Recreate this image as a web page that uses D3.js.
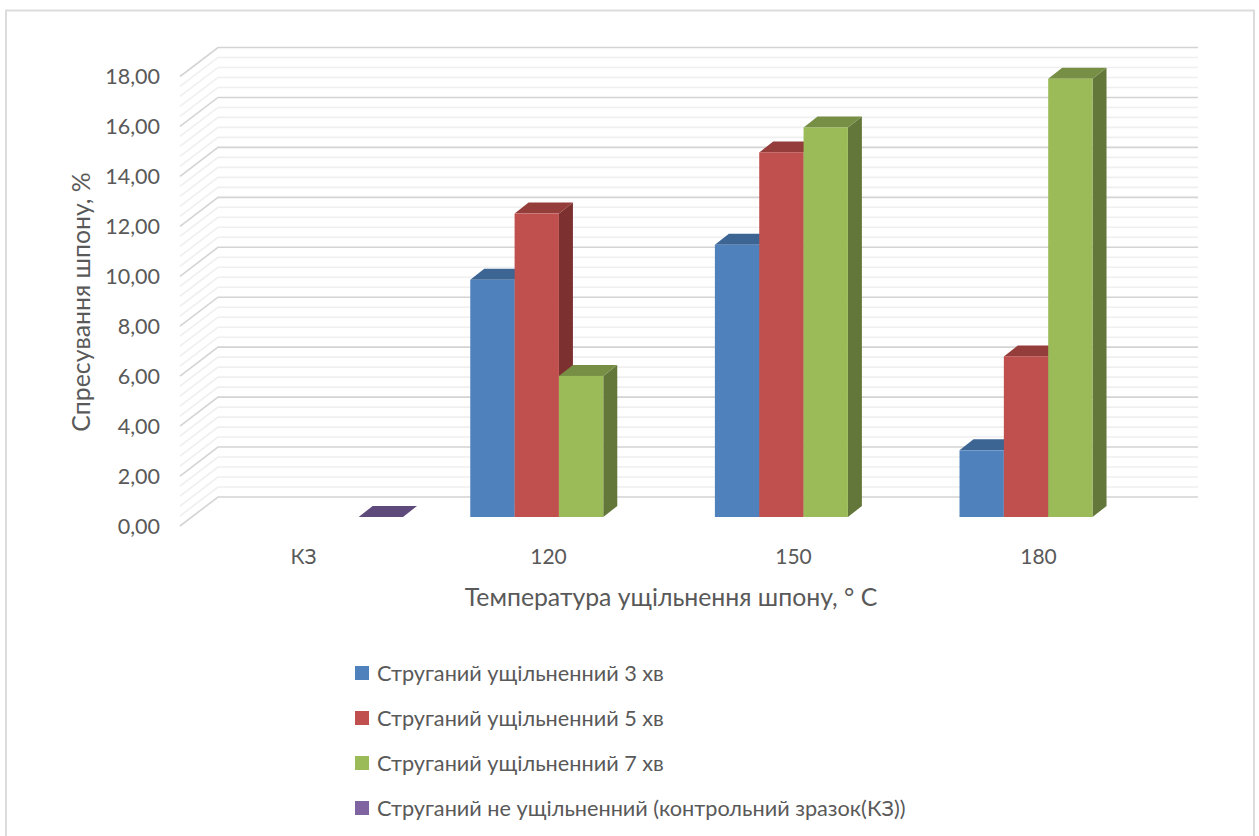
<!DOCTYPE html>
<html>
<head>
<meta charset="utf-8">
<script src="https://d3js.org/d3.v7.min.js"></script>
<style>
  html, body { margin: 0; padding: 0; background: #fff; }
  svg { display: block; }
  text { font-family: Lato, "Open Sans", sans-serif; fill: #595959; }
</style>
</head>
<body>
<div id="chart"></div>
<script>
const categories = ["КЗ", "120", "150", "180"];
const seriesNames = [
  "Струганий ущільненний 3 хв",
  "Струганий ущільненний 5 хв",
  "Струганий ущільненний 7 хв",
  "Струганий не ущільненний (контрольний зразок(КЗ))"
];
const values3 = [null, 9.5, 10.9, 2.67];
const values5 = [null, 12.15, 14.6, 6.43];
const values7 = [null, 5.65, 15.6, 17.55];
const valuesControl = [0, null, null, null];
const allValues = [values3, values5, values7, valuesControl];
const frontColors = ["#4f81bd", "#c0504d", "#9bbb59", "#8064a2"];
const topColors = ["#3c6594", "#953d3a", "#778f45", "#5f4a7c"];
const sideColors = ["#3c6594", "#7c3130", "#64773a", "#5f4a7c"];
const yTicks = d3.range(0, 18.01, 2);
const minorTicks = d3.range(0, 18.01, 0.4);

const width = 1259, height = 836;
const wallDx = 38, wallDy = -29;   // floor depth
const barShiftX = 12, barShiftY = -9; // bars stand a bit behind the front edge
const barDx = 14, barDy = -11;     // depth of a bar

const svg = d3.select("#chart").append("svg")
  .attr("width", width)
  .attr("height", height);

// chart frame
svg.append("path")
  .attr("d", "M6,836V10.5H1254V836")
  .attr("fill", "none")
  .attr("stroke", "#dcdcdc")
  .attr("stroke-width", 2);

const y = d3.scaleLinear().domain([0, 18]).range([526, 76.5]);
const x = d3.scaleBand().domain(categories).range([180, 1160]);
const xBars = d3.scaleBand().domain(categories)
  .range([180 + barShiftX, 1158.5 + barShiftX])
  .paddingInner(0.275).paddingOuter(0.1375);
const xSeries = d3.scaleBand().domain(d3.range(4)).range([0, xBars.bandwidth()]);

// gridlines: side wall + back wall
const grid = svg.append("g").attr("fill", "none");
grid.selectAll("path")
  .data(minorTicks.filter(d => Math.round(d * 10) % 20 !== 0).concat(yTicks))
  .join("path")
  .attr("d", d => `M${x.range()[0]},${y(d)}L${x.range()[0] + wallDx},${y(d) + wallDy}H${x.range()[1] + wallDx}`)
  .attr("stroke", d => yTicks.includes(d) ? "#d4d4d4" : "#efefef")
  .attr("stroke-width", 1.6);

// 3d bars
const bars = svg.append("g");
allValues.forEach((vals, s) => {
  categories.forEach((c, i) => {
    const v = vals[i];
    if (v === null) return;
    const x0 = xBars(c) + xSeries(s);
    const x1 = x0 + xSeries.bandwidth();
    const yBase = y(0) + barShiftY;
    const yTop = y(v) + barShiftY;
    const g = bars.append("g");
    g.append("path")
      .attr("d", `M${x1},${yTop}L${x1 + barDx},${yTop + barDy}V${yBase + barDy}L${x1},${yBase}Z`)
      .attr("fill", sideColors[s]);
    g.append("path")
      .attr("d", `M${x0},${yTop}L${x0 + barDx},${yTop + barDy}H${x1 + barDx}L${x1},${yTop}Z`)
      .attr("fill", topColors[s]);
    if (v > 0) {
      g.append("rect")
        .attr("x", x0)
        .attr("y", yTop)
        .attr("width", x1 - x0)
        .attr("height", yBase - yTop)
        .attr("fill", frontColors[s]);
    }
  });
});

// y tick labels
svg.append("g").selectAll("text")
  .data(yTicks)
  .join("text")
  .attr("x", 160)
  .attr("y", d => y(d))
  .attr("dy", "0.35em")
  .attr("text-anchor", "end")
  .attr("font-size", 21.5)
  .text(d => d3.format(".2f")(d).replace(".", ","));

// x tick labels
svg.append("g").selectAll("text")
  .data(categories)
  .join("text")
  .attr("x", d => x(d) + x.bandwidth() / 2 + 1)
  .attr("y", 557)
  .attr("dy", "0.35em")
  .attr("text-anchor", "middle")
  .attr("font-size", 21)
  .text(d => d);

// axis titles
svg.append("text")
  .attr("x", 671)
  .attr("y", 597)
  .attr("dy", "0.35em")
  .attr("text-anchor", "middle")
  .attr("font-size", 24.8)
  .text("Температура ущільнення шпону, ° C");

svg.append("text")
  .attr("transform", "translate(81,302) rotate(-90)")
  .attr("dy", "0.35em")
  .attr("text-anchor", "middle")
  .attr("font-size", 24.8)
  .text("Спресування шпону, %");

// legend
const legendY = d3.scalePoint().domain(d3.range(4)).range([673, 808]);
const legend = svg.append("g").selectAll("g")
  .data(seriesNames)
  .join("g")
  .attr("transform", (d, i) => `translate(355,${legendY(i)})`);
legend.append("rect")
  .attr("y", -7)
  .attr("width", 14)
  .attr("height", 14)
  .attr("fill", (d, i) => frontColors[i]);
legend.append("text")
  .attr("x", 22)
  .attr("dy", "0.35em")
  .attr("font-size", 21.7)
  .text(d => d);
</script>
</body>
</html>
